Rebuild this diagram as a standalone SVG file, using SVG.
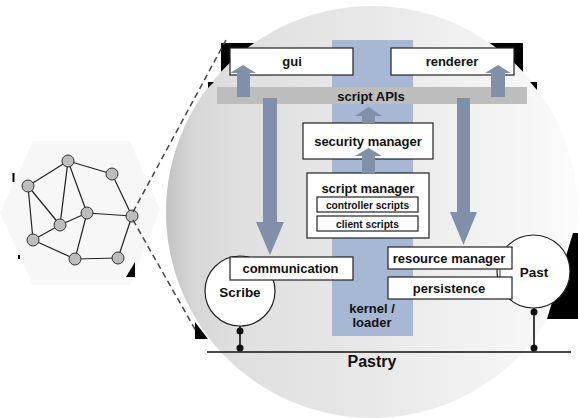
<svg xmlns="http://www.w3.org/2000/svg" width="578" height="418" viewBox="0 0 578 418">
  <defs>
    <linearGradient id="zoomFill" x1="0" y1="0" x2="1" y2="0">
      <stop offset="0" stop-color="#c2c2c2"/>
      <stop offset="0.06" stop-color="#d5d5d5"/>
      <stop offset="0.16" stop-color="#dfdfdf"/>
      <stop offset="0.5" stop-color="#e8e8e8"/>
      <stop offset="1" stop-color="#fbfbfb"/>
    </linearGradient>
  </defs>
  <style>
    text { font-family: "Liberation Sans", Arial, Helvetica, sans-serif; font-weight: bold; fill: #111; text-anchor: middle; }
    .box { fill: #fff; stroke: #222; stroke-width: 1.2; }
    .arrow { fill: #8090a8; }
    .edge { stroke: #222; stroke-width: 1.2; fill: none; }
    .vertex { fill: #bdbdbd; stroke: #333; stroke-width: 1; }
    .dot { fill: #111; }
    .blk { fill: #000; }
    .lbl { font-size: 13px; }
    .small { font-size: 10.2px; }
  </style>

  <rect width="578" height="418" fill="#fff"/>

  <!-- overlay network hexagon -->
  <g id="network">
    <polygon points="0,213 33,141 130,141 160,210 130,285 33,285" fill="#f7f7f7"/>
    <rect class="blk" x="12.5" y="173" width="2" height="9"/>
    <rect class="blk" x="18" y="255" width="2" height="4"/>
    <polygon class="blk" points="126,277 135,277 135,262"/>
    <g class="edge">
      <line x1="68" y1="161" x2="112" y2="174"/>
      <line x1="68" y1="161" x2="28" y2="186"/>
      <line x1="68" y1="161" x2="60" y2="225"/>
      <line x1="68" y1="161" x2="87" y2="213"/>
      <line x1="112" y1="174" x2="132" y2="216"/>
      <line x1="28" y1="186" x2="60" y2="225"/>
      <line x1="28" y1="186" x2="33" y2="240"/>
      <line x1="60" y1="225" x2="87" y2="213"/>
      <line x1="60" y1="225" x2="33" y2="240"/>
      <line x1="87" y1="213" x2="132" y2="216"/>
      <line x1="87" y1="213" x2="75" y2="259"/>
      <line x1="33" y1="240" x2="75" y2="259"/>
      <line x1="75" y1="259" x2="118" y2="258"/>
      <line x1="118" y1="258" x2="132" y2="216"/>
    </g>
    <circle class="vertex" cx="68" cy="161" r="6"/>
    <circle class="vertex" cx="112" cy="174" r="6"/>
    <circle class="vertex" cx="28" cy="186" r="6"/>
    <circle class="vertex" cx="87" cy="213" r="6"/>
    <circle class="vertex" cx="132" cy="216" r="6"/>
    <circle class="vertex" cx="60" cy="225" r="6"/>
    <circle class="vertex" cx="33" cy="240" r="6"/>
    <circle class="vertex" cx="75" cy="259" r="6"/>
    <circle class="vertex" cx="118" cy="258" r="6"/>
  </g>

  <!-- dark corner fragments behind the node view -->
  <rect class="blk" x="221" y="43" width="36" height="31"/>
  <rect class="blk" x="488" y="43" width="35" height="31"/>

  <!-- zoomed node view -->
  <circle id="node-view" cx="372" cy="212" r="206" fill="url(#zoomFill)"/>

  <!-- dark fragments over the node view edge -->
  <polygon class="blk" points="195,322 195,339 208,339"/>
  <polygon class="blk" points="573,233 578,233 578,319 547,319"/>

  <!-- zoom lines -->
  <g id="zoom-lines" stroke="#444" stroke-width="1.5" stroke-dasharray="6,4" fill="none">
    <line x1="133" y1="212" x2="226" y2="40"/>
    <line x1="133" y1="220" x2="196" y2="331"/>
  </g>

  <g id="kernel">
    <rect x="332" y="40" width="81" height="296" fill="#a7b8d5"/>
    <text class="lbl" x="372" y="313">kernel /</text>
    <text class="lbl" x="372" y="327">loader</text>
  </g>

  <g id="script-apis">
    <rect x="217" y="87" width="310" height="17" fill="#bdbdbd"/>
    <polygon class="blk" points="208,82 214,82 208,88"/>
    <polygon class="blk" points="530,82 537,82 537,90"/>
    <text class="lbl" x="371" y="100.5">script APIs</text>
  </g>

  <g id="gui">
    <rect class="box" x="230" y="48" width="123" height="27"/>
    <text class="lbl" x="292" y="66">gui</text>
  </g>
  <g id="renderer">
    <rect class="box" x="391" y="48" width="123" height="27"/>
    <text class="lbl" x="452" y="66">renderer</text>
  </g>

  <g id="security-manager">
    <rect class="box" x="303" y="123" width="130" height="36"/>
    <text class="lbl" x="368" y="146">security manager</text>
  </g>

  <g id="script-manager">
    <rect class="box" x="307" y="173" width="122" height="65"/>
    <text class="lbl" x="368" y="193">script manager</text>
    <rect class="box" x="317" y="197" width="101" height="15"/>
    <text class="small" x="367.5" y="208.5">controller scripts</text>
    <rect class="box" x="317" y="216" width="101" height="15"/>
    <text class="small" x="367.5" y="227.5">client scripts</text>
  </g>

  <!-- Pastry substrate -->
  <g id="pastry">
    <line x1="207" y1="352" x2="571" y2="352" stroke="#111" stroke-width="1.6"/>
    <text x="372" y="367" font-size="16">Pastry</text>
  </g>

  <g id="scribe">
    <line x1="240" y1="326" x2="240" y2="348" stroke="#111" stroke-width="1.6"/>
    <circle class="dot" cx="240" cy="331" r="3.5"/>
    <circle class="dot" cx="240" cy="348" r="3.5"/>
    <circle class="box" cx="240" cy="291" r="35"/>
    <text x="240" y="297" font-size="13.5">Scribe</text>
  </g>
  <g id="communication">
    <rect class="box" x="230" y="257" width="123" height="23"/>
    <text class="lbl" x="290.5" y="273">communication</text>
  </g>

  <g id="past">
    <line x1="534" y1="308" x2="534" y2="348" stroke="#111" stroke-width="1.6"/>
    <circle class="dot" cx="534" cy="312" r="3.5"/>
    <circle class="dot" cx="534" cy="348" r="3.5"/>
    <circle class="box" cx="533.5" cy="271.5" r="36.5"/>
    <text x="534" y="277" font-size="13.5">Past</text>
  </g>
  <g id="resource-manager">
    <line x1="500" y1="269" x2="500" y2="277" stroke="#333" stroke-width="1"/>
    <rect class="box" x="388" y="247" width="124" height="22"/>
    <text class="lbl" x="449" y="262.5">resource manager</text>
  </g>
  <g id="persistence">
    <rect class="box" x="388" y="277" width="124" height="22"/>
    <text class="lbl" x="449" y="292.5">persistence</text>
  </g>

  <!-- call paths -->
  <g id="connectors" class="arrow">
    <polygon points="237,97 237,73 230,73 243,65 256,73 250,73 250,97"/>
    <polygon points="491,97 491,73 485,73 498,65 511,73 505,73 505,97"/>
    <polygon points="362,123 362,116 355,116 368.5,107 382,116 375,116 375,123"/>
    <polygon points="362,173 362,156 355,156 368.5,148 382,156 375,156 375,173"/>
    <polygon points="263,98 277,98 277,222 284,222 270,255 256,222 263,222"/>
    <polygon points="457,98 470,98 470,212 477,212 463.5,245 450,212 457,212"/>
  </g>
</svg>
